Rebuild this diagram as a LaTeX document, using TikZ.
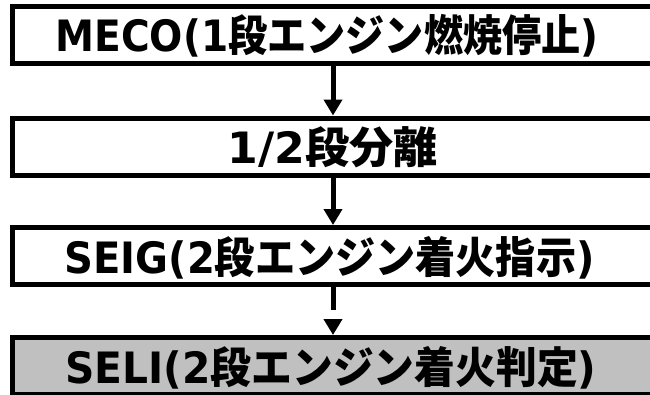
\documentclass[tikz,border=0pt]{standalone}
\usepackage{fontspec}
\usepackage{graphicx}
\usetikzlibrary{arrows.meta}
\newfontfamily\lat{DejaVu Sans}
\newfontfamily\jp{Noto Sans CJK JP}
\newcommand{\latt}[1]{{\lat\bfseries #1}}
\newcommand{\jpt}[1]{{\jp\bfseries #1}}
\newcommand{\fitto}[2]{\resizebox{#1}{1.08\height}{\fontsize{40}{48}\selectfont #2}}
\tikzset{
  stepbox/.style={draw=black, line width=5pt, minimum width=641pt, minimum height=57pt,
    inner sep=0pt, text height=40pt, text depth=6pt, fill=white},
  flowarrow/.style={line width=5pt, -{Triangle[width=18pt,length=16pt]}}
}
\begin{document}
\begin{tikzpicture}[x=1pt,y=1pt]
\useasboundingbox (0,0) rectangle (650,-394);
\node[stepbox] (meco) at (333,-34.5) {\hspace*{-12pt}\fitto{543pt}{\latt{MECO(1}\jpt{段エンジン燃焼停止}\latt{)}}};
\node[stepbox] (sep) at (333,-146.5) {\fitto{210pt}{\latt{1/2}\jpt{段分離}}};
\node[stepbox] (seig) at (333,-256) {\hspace*{-7pt}\fitto{530pt}{\latt{SEIG(2}\jpt{段エンジン着火指示}\latt{)}}};
\node[stepbox, fill={rgb,255:red,192;green,192;blue,192}] (seli) at (333,-366) {\hspace*{-4pt}\fitto{531pt}{\latt{SELI(2}\jpt{段エンジン着火判定}\latt{)}}};
\draw[flowarrow] (meco.south) -- (sep.north);
\draw[flowarrow] (sep.south) -- (seig.north);
\draw[flowarrow, dash pattern=on 22.5pt off 16pt] (seig.south) -- (seli.north);
\end{tikzpicture}
\end{document}
